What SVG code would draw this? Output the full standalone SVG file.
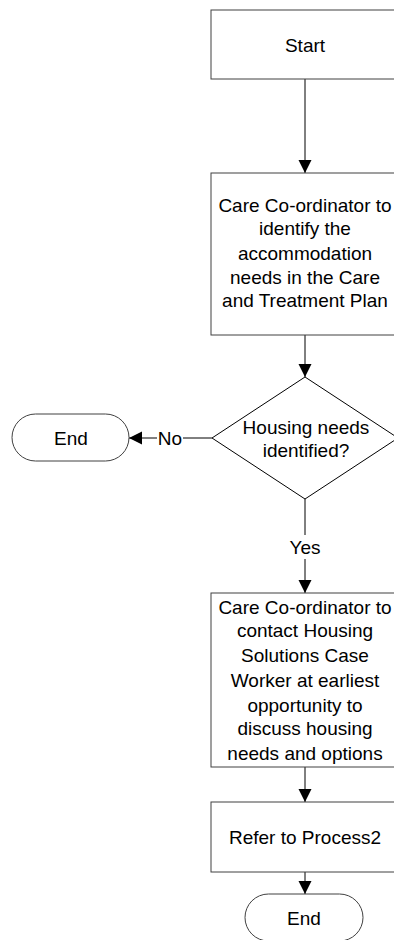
<svg xmlns="http://www.w3.org/2000/svg" width="394" height="940" viewBox="0 0 394 940">
<style>
.box{fill:#fff;stroke:#404040;stroke-width:1}
.ln{fill:none;stroke:#000;stroke-width:1}
text{font-family:"Liberation Sans",Arial,sans-serif;font-size:19px;fill:#000;text-anchor:middle}
</style>
<defs>
<marker id="ah" viewBox="0 0 10 10" refX="10" refY="5" markerWidth="13" markerHeight="14" markerUnits="userSpaceOnUse" orient="auto">
<path d="M0,0 L10,5 L0,10 Z" fill="#000"/>
</marker>
</defs>
<rect width="394" height="940" fill="#fff"/>
<g id="connectors">
<line class="ln" x1="305" y1="79" x2="305" y2="173" marker-end="url(#ah)"/>
<line class="ln" x1="305" y1="335" x2="305" y2="377" marker-end="url(#ah)"/>
<line class="ln" x1="212" y1="438" x2="183" y2="438"/>
<line class="ln" x1="157" y1="438" x2="129" y2="438" marker-end="url(#ah)"/>
<text x="170" y="445">No</text>
<line class="ln" x1="305" y1="499" x2="305" y2="535"/>
<text x="305" y="554">Yes</text>
<line class="ln" x1="305" y1="559" x2="305" y2="593" marker-end="url(#ah)"/>
<line class="ln" x1="305" y1="767" x2="305" y2="802" marker-end="url(#ah)"/>
<line class="ln" x1="305" y1="872" x2="305" y2="894" marker-end="url(#ah)"/>
</g>
<g id="start">
<rect class="box" x="211" y="10" width="188" height="69"/>
<text x="305" y="52">Start</text>
</g>
<g id="identify">
<rect class="box" x="211" y="173" width="188" height="162"/>
<text x="305" y="212">Care Co-ordinator to</text>
<text x="305" y="235">identify the</text>
<text x="305" y="260">accommodation</text>
<text x="305" y="284">needs in the Care</text>
<text x="305" y="307">and Treatment Plan</text>
</g>
<g id="decision">
<polygon class="ln" points="305,377 398,438 305,499 212,438" fill="#fff"/>
<text x="306" y="434">Housing needs</text>
<text x="306" y="457">identified?</text>
</g>
<g id="end1">
<rect class="box" x="12" y="414" width="117" height="47" rx="23.5" ry="23.5" stroke="#000"/>
<text x="71" y="445">End</text>
</g>
<g id="contact">
<rect class="box" x="211" y="593" width="188" height="174"/>
<text x="305" y="614">Care Co-ordinator to</text>
<text x="305" y="637">contact Housing</text>
<text x="305" y="662">Solutions Case</text>
<text x="305" y="687">Worker at earliest</text>
<text x="305" y="712">opportunity to</text>
<text x="305" y="735">discuss housing</text>
<text x="305" y="760">needs and options</text>
</g>
<g id="refer">
<rect class="box" x="211" y="802" width="188" height="70"/>
<text x="305" y="844">Refer to Process2</text>
</g>
<g id="end2">
<rect class="box" x="245" y="894" width="118" height="47" rx="23.5" ry="23.5" stroke="#000"/>
<text x="304" y="925">End</text>
</g>
</svg>
